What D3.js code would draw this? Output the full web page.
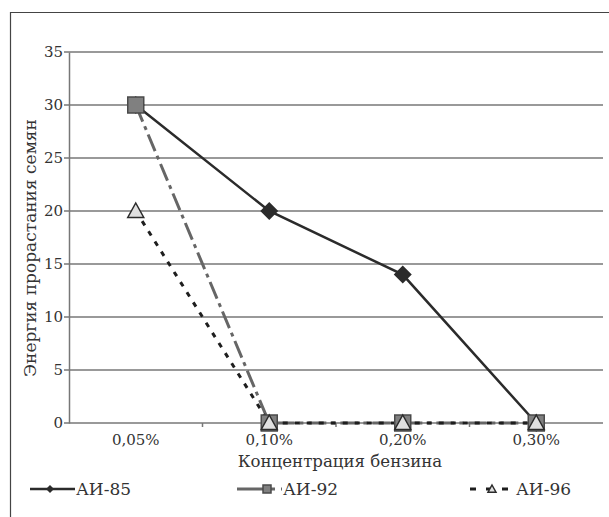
<!DOCTYPE html>
<html>
  <head>
    <meta charset="utf-8" />
    <style>
      body { margin: 0; background: #fff; }
      svg text { fill: #333; }
    </style>
  </head>
  <body>

<svg id="graph"></svg>

<script src="https://d3js.org/d3.v7.min.js"></script>
<script>
const WIDTH = 609
const HEIGHT = 517

// données
const CATEGORIES = ['0,05%', '0,10%', '0,20%', '0,30%']
const AI85 = [30, 20, 14, 0]
const AI92 = [30, 0, 0, 0]
const AI96 = [20, 0, 0, 0]
const Y_TICKS = [0, 5, 10, 15, 20, 25, 30, 35]

const LEFT = 69
const RIGHT = 603
const TOP = 52
const BOTTOM = 423
const FONT = "'DejaVu Serif', serif"

const svg = d3.select('#graph')
  .attr('width', WIDTH)
  .attr('height', HEIGHT)

svg.append('rect').attr('width', WIDTH).attr('height', HEIGHT).attr('fill', '#fff')

// cadre
svg.append('path')
  .attr('d', `M10.5,${HEIGHT} V12.5 H${WIDTH}`)
  .attr('fill', 'none')
  .attr('stroke', '#444')
  .attr('stroke-width', 1.2)

const x = d3.scaleBand().domain(CATEGORIES).range([LEFT, RIGHT])
const y = d3.scaleLinear().domain([0, 35]).range([BOTTOM, TOP])

// grille
svg.append('g')
  .selectAll('line')
  .data(Y_TICKS)
  .enter()
    .append('line')
    .attr('x1', LEFT - 5)
    .attr('x2', RIGHT)
    .attr('y1', d => y(d))
    .attr('y2', d => y(d))
    .attr('stroke', '#777')
    .attr('stroke-width', 1.5)

// axe Y
const axisY = d3.axisLeft(y).tickValues(Y_TICKS).tickSize(0).tickPadding(6)
const gy = svg.append('g').attr('transform', `translate(${LEFT},0)`).call(axisY)
gy.attr('font-family', FONT).attr('font-size', 15)
gy.select('.domain').attr('stroke', '#777').attr('stroke-width', 1.5)
gy.selectAll('text').attr('fill', '#333')

// axe X
const axisX = d3.axisBottom(x).tickSize(0).tickPadding(11)
const gx = svg.append('g').attr('transform', `translate(0,${BOTTOM})`).call(axisX)
gx.attr('font-family', FONT).attr('font-size', 15)
gx.select('.domain').remove()
gx.selectAll('text').attr('fill', '#333')
svg.append('g')
  .selectAll('line')
  .data(CATEGORIES.slice(1))
  .enter()
    .append('line')
    .attr('x1', d => x(d))
    .attr('x2', d => x(d))
    .attr('y1', BOTTOM)
    .attr('y2', BOTTOM + 4)
    .attr('stroke', '#777')
    .attr('stroke-width', 1.5)

// titres
svg.append('text')
  .attr('x', 340)
  .attr('y', 467)
  .attr('text-anchor', 'middle')
  .attr('font-size', 16.6)
  .attr('font-family', FONT)
  .text('Концентрация бензина')

svg.append('text')
  .attr('transform', 'translate(36,248) rotate(-90)')
  .attr('text-anchor', 'middle')
  .attr('font-size', 17)
  .attr('font-family', FONT)
  .text('Энергия прорастания семян')

const cx = (d, i) => x(CATEGORIES[i]) + x.bandwidth() / 2
const line = d3.line().x((d, i) => cx(d, i)).y(d => y(d))

const SERIES = [
  { name: 'АИ-85', values: AI85, stroke: '#2b2b2b', dash: null, width: 2.5, marker: 'diamond' },
  { name: 'АИ-92', values: AI92, stroke: '#666', dash: '18,5,4,5', width: 3, marker: 'square' },
  { name: 'АИ-96', values: AI96, stroke: '#1e1e1e', dash: '5,7', width: 3, marker: 'triangle' },
]

function marker(g, type, px, py, big) {
  if (type === 'diamond') {
    const s = big ? 9 : 4
    g.append('path')
      .attr('d', `M${px},${py - s} L${px + s},${py} L${px},${py + s} L${px - s},${py} Z`)
      .attr('fill', '#2b2b2b')
  } else if (type === 'square') {
    const s = big ? 8 : 4
    g.append('rect')
      .attr('x', px - s).attr('y', py - s)
      .attr('width', 2 * s).attr('height', 2 * s)
      .attr('fill', '#808080')
      .attr('stroke', '#4a4a4a')
      .attr('stroke-width', 1.5)
  } else {
    const s = big ? 8 : 4
    g.append('path')
      .attr('d', `M${px},${py - s} L${px + s},${py + s * 0.8} L${px - s},${py + s * 0.8} Z`)
      .attr('fill', '#e0e0e0')
      .attr('stroke', '#2b2b2b')
      .attr('stroke-width', 1.5)
  }
}

SERIES.forEach(s => {
  svg.append('path')
    .datum(s.values)
    .attr('d', line)
    .attr('fill', 'none')
    .attr('stroke', s.stroke)
    .attr('stroke-width', s.width)
    .attr('stroke-dasharray', s.dash)
})
SERIES.forEach(s => {
  const g = svg.append('g')
  s.values.forEach((v, i) => marker(g, s.marker, cx(v, i), y(v), true))
})

// légende
const LEGEND_X = [30, 237, 470]
const LEGEND_Y = 489
SERIES.forEach((s, i) => {
  const g = svg.append('g').attr('transform', `translate(${LEGEND_X[i]},${LEGEND_Y})`)
  g.append('line')
    .attr('x1', 0).attr('x2', 45)
    .attr('stroke', s.stroke)
    .attr('stroke-width', s.width)
    .attr('stroke-dasharray', i === 1 ? '26,6,6,6' : (i === 2 ? '6,10' : null))
  marker(g, s.marker, i === 0 ? 20 : (i === 1 ? 30 : 22), 0, false)
  g.append('text')
    .attr('x', 46)
    .attr('y', 6)
    .attr('font-size', 17)
    .attr('font-family', FONT)
    .text(s.name)
})

</script>
  </body>
</html>
